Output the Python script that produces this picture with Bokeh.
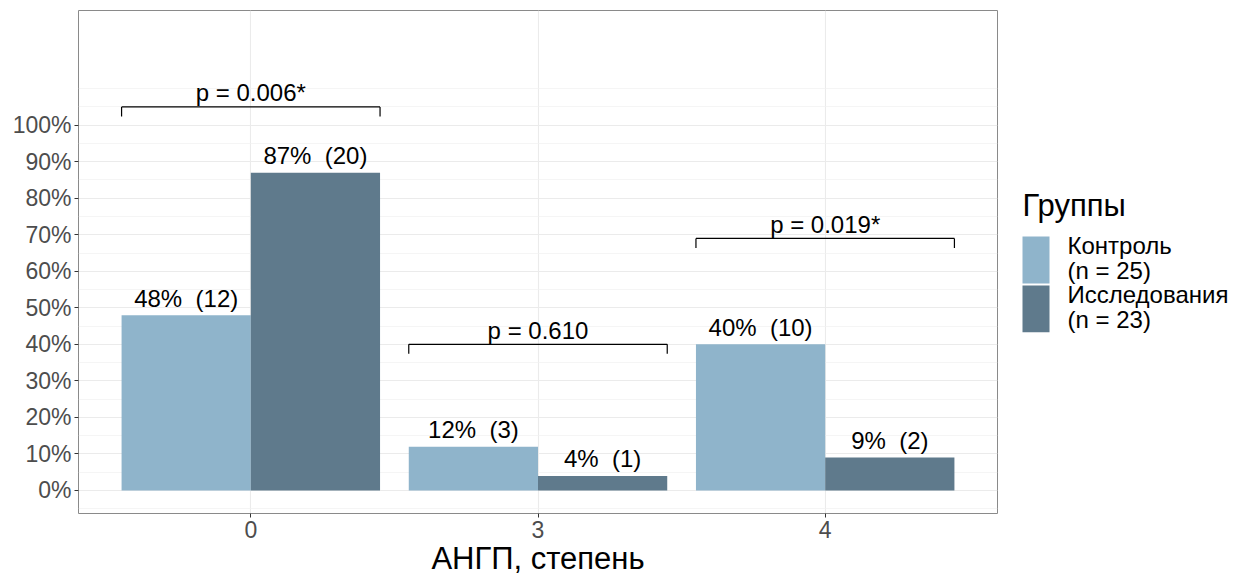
import numpy as np
from bokeh.plotting import figure
from bokeh.models import Range1d, FixedTicker, PrintfTickFormatter
from bokeh.layouts import row
from bokeh.embed import file_html
from bokeh.resources import INLINE
from bokeh.core.properties import value

# ---- data ----
categories = ["0", "3", "4"]
group_names = ["Контроль", "Исследования"]
group_sizes = ["(n = 25)", "(n = 23)"]
control_pct = [48, 12, 40]
control_n = [12, 3, 10]
study_pct = [87, 4, 9]
study_n = [20, 1, 2]
p_labels = ["p = 0.006*", "p = 0.610", "p = 0.019*"]
p_levels = [105, 40, 69]
y_ticks = [0, 10, 20, 30, 40, 50, 60, 70, 80, 90, 100]
y_minor = [-5, 5, 15, 25, 35, 45, 55, 65, 75, 85, 95, 105, 110]

LIGHT = "#8FB4CB"
DARK = "#5F7A8C"
FONT = value("Liberation Sans")

xpos = np.arange(1, len(categories) + 1, dtype=float)
bw = 0.45

H = 578
TOP, BOT = 10, 515
p = figure(width=999, height=H, x_range=Range1d(0.4, 3.6), y_range=Range1d(-6.3, 131.4),
           output_backend="svg", toolbar_location=None,
           min_border_left=78, min_border_right=2, min_border_top=TOP, min_border_bottom=H - BOT)
p.background_fill_color = "white"
p.border_fill_color = "white"
p.outline_line_color = "#8A8A8A"
p.outline_line_width = 1

# bars
p.vbar(x=xpos - bw / 2, top=control_pct, width=bw, fill_color=LIGHT, line_color=None)
p.vbar(x=xpos + bw / 2, top=study_pct, width=bw, fill_color=DARK, line_color=None)

# bar labels (space + no-break space keeps the double gap in SVG)
c_txt = [f"{v}% \u00a0({n})" for v, n in zip(control_pct, control_n)]
s_txt = [f"{v}% \u00a0({n})" for v, n in zip(study_pct, study_n)]
p.text(x=xpos - bw / 2, y=control_pct, text=c_txt, text_align="center", text_baseline="alphabetic",
       y_offset=-17, text_font=FONT, text_font_size="24px", text_color="black")
p.text(x=xpos + bw / 2, y=study_pct, text=s_txt, text_align="center", text_baseline="alphabetic",
       y_offset=-17, text_font=FONT, text_font_size="24px", text_color="black")

# significance brackets
lv = np.array(p_levels, dtype=float)
tick = 2.6
p.segment(x0=xpos - 0.45, x1=xpos + 0.45, y0=lv, y1=lv, line_color="black", line_width=1.2)
p.segment(x0=xpos - 0.45, x1=xpos - 0.45, y0=lv, y1=lv - tick, line_color="black", line_width=1.2)
p.segment(x0=xpos + 0.45, x1=xpos + 0.45, y0=lv, y1=lv - tick, line_color="black", line_width=1.2)
p.text(x=xpos, y=lv, text=p_labels, text_align="center", text_baseline="alphabetic",
       y_offset=-14, text_font=FONT, text_font_size="24px", text_color="black")

# axes
p.yaxis.ticker = FixedTicker(ticks=y_ticks, minor_ticks=y_minor)
p.yaxis.formatter = PrintfTickFormatter(format="%d%%")
p.xaxis.ticker = FixedTicker(ticks=list(xpos))
p.xaxis.major_label_overrides = {int(x): c for x, c in zip(xpos, categories)}
for ax in (p.xaxis, p.yaxis):
    ax.axis_line_color = None
    ax.major_tick_line_color = "#333333"
    ax.major_tick_out = 4
    ax.major_tick_in = 0
    ax.minor_tick_out = 0
    ax.minor_tick_in = 0
    ax.major_label_text_font = "Liberation Sans"
    ax.major_label_text_font_size = "23px"
    ax.major_label_text_color = "#4D4D4D"
p.yaxis.major_label_standoff = 3
p.xaxis.major_label_standoff = 3
p.xaxis.axis_label = "АНГП, степень"
p.xaxis.axis_label_text_font = "Liberation Sans"
p.xaxis.axis_label_text_font_size = "31px"
p.xaxis.axis_label_text_font_style = "normal"
p.xaxis.axis_label_text_color = "black"
p.xaxis.axis_label_standoff = 0

# grid
p.xgrid.grid_line_color = "#EBEBEB"
p.xgrid.grid_line_width = 1.1
p.ygrid.grid_line_color = "#EBEBEB"
p.ygrid.grid_line_width = 1.1
p.ygrid.minor_grid_line_color = "#F0F0F0"
p.ygrid.minor_grid_line_width = 0.7

# ---- legend (separate panel; frame aligned with the main frame, y = -pixel row) ----
lg = figure(width=241, height=H, x_range=Range1d(0, 241), y_range=Range1d(-BOT, -TOP),
            output_backend="svg", toolbar_location=None, x_axis_type=None, y_axis_type=None,
            min_border_left=0, min_border_right=0, min_border_top=TOP, min_border_bottom=H - BOT)
lg.outline_line_color = None
lg.xgrid.visible = False
lg.ygrid.visible = False
lg.text(x=[23], y=[-217], text=["Группы"], text_baseline="alphabetic", text_font=FONT,
        y_offset=-11, text_font_size="31px", text_color="black")
colors = [LIGHT, DARK]
tops = [237, 286]
lg.quad(left=[23, 23], right=[50, 50], top=[-t for t in tops], bottom=[-t - 47 for t in tops],
        fill_color=colors, line_color=None)
lg.text(x=[68, 68], y=[-t - 18 for t in tops], text=group_names, text_baseline="alphabetic",
        y_offset=-9, text_font=FONT, text_font_size="24px", text_color="black")
lg.text(x=[68, 68], y=[-t - 43 for t in tops], text=group_sizes, text_baseline="alphabetic",
        y_offset=-9, text_font=FONT, text_font_size="24px", text_color="black")

layout = row(p, lg)
open("out.html", "w").write(file_html(layout, INLINE))
